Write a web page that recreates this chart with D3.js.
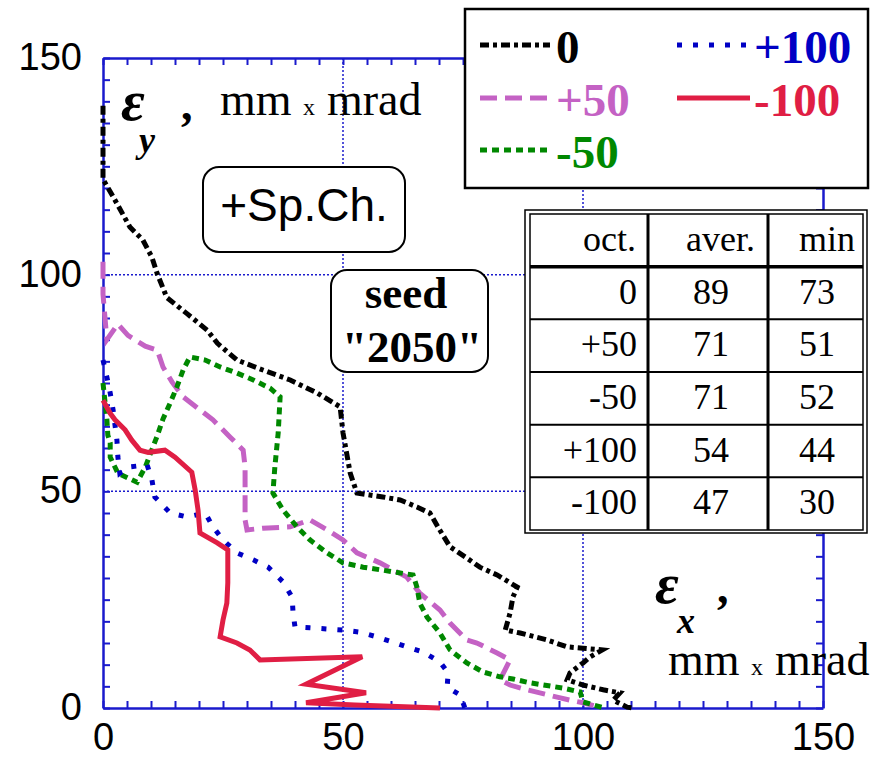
<!DOCTYPE html>
<html>
<head>
<meta charset="utf-8">
<script src="https://cdn.jsdelivr.net/npm/d3@7"></script>
<style>
  body { margin: 0; background: #fff; }
  svg { display: block; }
</style>
</head>
<body>
<svg id="chart" width="885" height="759"></svg>
<script>
// Emittance curves (eps_x, eps_y) for each octupole setting
const seriesNames = ["0", "+50", "-50", "+100", "-100"];

const curveOct0 = [
  [0,139],[0,122],[2.1,118],[5.6,111],[8.3,108],[10.2,104],[11.3,100.2],[13.3,94.7],
  [17.5,91],[21.7,87.2],[23.8,84.2],[27.9,80.3],[33.3,78],[39,75.7],[44.6,72.7],
  [49.4,69.5],[50,63.5],[51.5,54.2],[52.9,49.6],[58.3,48.7],[61.9,48],[65.4,46.4],
  [68.1,45],[70.2,41],[72.3,37.2],[75.8,34.6],[78.5,32.5],[82.1,30.7],[86.3,27.9],
  [85.4,25.6],[84.8,21.9],[83.8,18],[86.9,17.3],[92.5,15.7],[96.7,14.1],[100,13.8],
  [104,13.4],[101.5,11.8],[100,10.4],[97.3,8.1],[96.7,6.5],[100,5.3],[104.2,4.2],
  [107.7,3.5],[106.3,1.8],[109.2,0.2],[110.4,0]
];
const curveOctP50 = [
  [0,103],[0,95.5],[0.8,85],[3.1,88.6],[5.2,86],[8.8,83.5],[11.3,82.6],[12.5,78.7],
  [14.4,75.2],[16.7,71.8],[20.2,68.8],[22.9,66.5],[26.5,62.5],[29.2,59.5],[29.6,55.6],
  [29.6,43.4],[30,41.1],[33.3,41.5],[39,41.8],[43.1,43.4],[46.7,41.1],[50,38.8],
  [52.9,35.8],[57.7,33.5],[63.3,30.2],[66,26.5],[70.2,22.6],[72.3,19.6],[75.8,15.7],
  [77.9,15],[82.1,12.7],[84.8,11.1],[82.7,6.5],[84.8,5.3],[88.3,4.2],[91,3.5],
  [94.6,2.5],[97.3,1.8],[100,1.2],[103.5,0.2]
];
const curveOctM50 = [
  [0,75],[0.8,66.7],[1,63],[1.5,61.2],[1.5,57.9],[3.1,54.2],[7.1,52.1],[8.8,55.6],
  [11.3,62.8],[12.5,66.7],[14,70.4],[15.4,74.1],[16.7,78],[18.1,81],[21.3,80.3],
  [24.4,78.7],[27.9,77.3],[31.3,75.7],[34.8,73.8],[36.9,71.8],[36.5,63.5],[35.8,55.6],
  [35.4,49.6],[37.5,45.7],[40.4,41.8],[43.1,38.8],[46.7,35.8],[50,33.5],[54.2,32.5],
  [58.3,31.8],[64.6,30.7],[65.4,27.9],[66,24.2],[67.5,21],[70.2,17.3],[72.3,13.4],
  [75.8,10.4],[79.2,8.3],[82.7,7.2],[85.4,6.7],[89,5.8],[95.8,4.6],[99.4,3.7],
  [100,1.4],[104.4,0]
];
const curveOctP100 = [
  [0,80.3],[0.8,76.4],[1.5,72.7],[2.1,68.8],[2.9,61.8],[3.1,57.9],[3.5,54.2],[5.2,55.6],
  [9.2,56.1],[10.2,52.6],[10.8,48.7],[14,45],[17.5,44.1],[21.3,45],[22.9,41.8],[25,38.8],
  [27.9,35.8],[31.3,34.2],[34.4,32.5],[37.5,29.1],[39.4,25.6],[39.6,21.9],[40,18.7],
  [43.1,18.5],[50,18],[53.5,17.5],[57.1,16.4],[60.4,15.2],[63.3,14.1],[66.7,12.9],
  [70.2,10.6],[71.9,8.1],[71.7,4.8],[74.4,3],[75.4,0]
];
const curveOctM100 = [
  [0,71],[1.5,68],[2.5,66.5],[4.6,64.2],[6,61.8],[7.7,59.5],[9.4,59],[12.9,59.5],
  [15,57.9],[18.5,54.4],[19.2,50.3],[19.8,45.7],[20.2,40.4],[23.8,38.1],[26,36.5],
  [26,28.9],[25.8,24.2],[25,20.3],[24.4,16.4],[27.9,15],[30.6,13.4],[32.7,11.1],
  [54,11.8],[42.3,5.5],[54.8,3.5],[42.3,1.2],[52.5,0.7],[70.2,0]
];
const seriesCurves = [curveOct0, curveOctP50, curveOctM50, curveOctP100, curveOctM100];

// Summary table
const tableHeader = ["oct.", "aver.", "min"];
const averValues = [89, 71, 71, 54, 47];
const minValues = [73, 51, 52, 44, 30];

// Axes
const axisDomain = [0, 150];
const axisLabelTicks = [0, 50, 100, 150];
const gridValues = [50, 100];
const minorStep = 5;

// ---------- drawing ----------
const svg = d3.select("#chart");
const plot = { left: 103, right: 823, top: 58, bottom: 708 };
const x = d3.scaleLinear().domain(axisDomain).range([plot.left, plot.right]);
const y = d3.scaleLinear().domain(axisDomain).range([plot.bottom, plot.top]);

const AXIS_BLUE = "#1a1acc";
const SANS = "'Liberation Sans', Arial, sans-serif";
const SERIF = "'Liberation Serif', 'Times New Roman', serif";

const lineStyle = {
  "0":    { color: "#000000", width: 5, dash: "9,4,4,4" },
  "+50":  { color: "#c462c4", width: 5, dash: "17,8" },
  "-50":  { color: "#008800", width: 5, dash: "7,5" },
  "+100": { color: "#0000c4", width: 5, dash: "5,11" },
  "-100": { color: "#e01e44", width: 5, dash: null }
};

// dotted grid
const grid = svg.append("g");
grid.selectAll("line.gx").data(gridValues).join("line")
  .attr("x1", d => x(d)).attr("x2", d => x(d))
  .attr("y1", y(150)).attr("y2", y(0))
  .attr("stroke", AXIS_BLUE).attr("stroke-width", 1.5).attr("stroke-dasharray", "2,2");
grid.selectAll("line.gy").data(gridValues).join("line")
  .attr("y1", d => y(d)).attr("y2", d => y(d))
  .attr("x1", x(0)).attr("x2", x(150))
  .attr("stroke", AXIS_BLUE).attr("stroke-width", 1.5).attr("stroke-dasharray", "2,2");

// axes with inward minor ticks on all four sides
const tickVals = d3.range(axisDomain[0], axisDomain[1] + 0.001, minorStep);
const fmt = d => (axisLabelTicks.includes(d) ? String(d) : "");

function styleAxis(g) {
  g.select(".domain").attr("stroke", AXIS_BLUE).attr("stroke-width", 2.5);
  g.selectAll(".tick line").attr("stroke", AXIS_BLUE).attr("stroke-width", 2);
  g.selectAll(".tick text").attr("fill", "#000").attr("font-family", SANS).attr("font-size", 38);
}

svg.append("g").attr("transform", `translate(0,${plot.bottom})`)
  .call(d3.axisBottom(x).tickValues(tickVals).tickSizeInner(-7).tickSizeOuter(0)
        .tickPadding(15).tickFormat(fmt))
  .call(styleAxis);
svg.append("g").attr("transform", `translate(${plot.left},0)`)
  .call(d3.axisLeft(y).tickValues(tickVals).tickSizeInner(-7).tickSizeOuter(0)
        .tickPadding(21).tickFormat(fmt))
  .call(styleAxis)
  .selectAll(".tick text").attr("dy", "0.3em");
svg.append("g").attr("transform", `translate(0,${plot.top})`)
  .call(d3.axisTop(x).tickValues(tickVals).tickSizeInner(-7).tickSizeOuter(0).tickFormat(""))
  .call(styleAxis);
svg.append("g").attr("transform", `translate(${plot.right},0)`)
  .call(d3.axisRight(y).tickValues(tickVals).tickSizeInner(-7).tickSizeOuter(0).tickFormat(""))
  .call(styleAxis);

// curves
const line = d3.line().x(d => x(d[0])).y(d => y(d[1]));
svg.append("g").selectAll("path").data(seriesNames).join("path")
  .attr("d", (name, i) => line(seriesCurves[i]))
  .attr("fill", "none")
  .attr("stroke", n => lineStyle[n].color)
  .attr("stroke-width", n => lineStyle[n].width)
  .attr("stroke-dasharray", n => lineStyle[n].dash)
  .attr("stroke-linejoin", "miter")
  .attr("stroke-linecap", "butt");

// axis titles
function axisTitle(g, ex, ey, sub, subDx, subDy, commaDx, unitX, unitY) {
  g.append("text").attr("x", ex).attr("y", ey)
    .attr("font-family", SERIF).attr("font-style", "italic").attr("font-weight", "bold")
    .attr("font-size", 58).text("\u03b5");
  g.append("text").attr("x", ex + subDx).attr("y", ey + subDy)
    .attr("font-family", SERIF).attr("font-style", "italic").attr("font-weight", "bold")
    .attr("font-size", 36).text(sub);
  g.append("text").attr("x", ex + commaDx).attr("y", ey)
    .attr("font-family", SERIF).attr("font-weight", "bold")
    .attr("font-size", 46).text(",");
  g.append("text").attr("x", unitX).attr("y", unitY)
    .attr("font-family", SERIF).attr("font-size", 46).text("mm");
  g.append("text").attr("x", unitX + 83).attr("y", unitY)
    .attr("font-family", SERIF).attr("font-size", 24).text("x");
  g.append("text").attr("x", unitX + 107).attr("y", unitY)
    .attr("font-family", SERIF).attr("font-size", 46).text("mrad");
}
const titles = svg.append("g");
axisTitle(titles, 121, 120, "y", 18, 32, 60, 220, 115);
axisTitle(titles, 655, 603, "x", 22, 30, 62, 668, 675);

// rounded annotation boxes
const notes = svg.append("g");
notes.append("rect").attr("x", 203).attr("y", 167).attr("width", 202).attr("height", 85)
  .attr("rx", 16).attr("fill", "#fff").attr("stroke", "#000").attr("stroke-width", 2);
notes.append("text").attr("x", 304).attr("y", 221).attr("text-anchor", "middle")
  .attr("font-family", SANS).attr("font-size", 46).text("+Sp.Ch.");
notes.append("rect").attr("x", 331).attr("y", 270).attr("width", 157).attr("height", 102)
  .attr("rx", 16).attr("fill", "#fff").attr("stroke", "#000").attr("stroke-width", 2);
notes.append("text").attr("x", 406).attr("y", 308).attr("text-anchor", "middle")
  .attr("font-family", SERIF).attr("font-weight", "bold").attr("font-size", 45).text("seed");
notes.append("text").attr("x", 412).attr("y", 362).attr("text-anchor", "middle")
  .attr("font-family", SERIF).attr("font-weight", "bold").attr("font-size", 45).text("\"2050\"");

// legend
const legend = svg.append("g");
legend.append("rect").attr("x", 465).attr("y", 9).attr("width", 403).attr("height", 179)
  .attr("fill", "#fff").attr("stroke", "#000").attr("stroke-width", 2.5);
const legendSlot = { "0": [0, 0], "+100": [1, 0], "+50": [0, 1], "-100": [1, 1], "-50": [0, 2] };
const legendCols = [{ x1: 480, x2: 550, tx: 556 }, { x1: 677, x2: 750, tx: 754 }];
const legendRowY = [45, 98, 150];
const items = legend.selectAll("g.item").data(seriesNames).join("g");
items.append("line")
  .attr("x1", n => legendCols[legendSlot[n][0]].x1)
  .attr("x2", n => legendCols[legendSlot[n][0]].x2)
  .attr("y1", n => legendRowY[legendSlot[n][1]])
  .attr("y2", n => legendRowY[legendSlot[n][1]])
  .attr("stroke", n => lineStyle[n].color)
  .attr("stroke-width", n => lineStyle[n].width)
  .attr("stroke-dasharray", n => lineStyle[n].dash);
items.append("text")
  .attr("x", n => legendCols[legendSlot[n][0]].tx)
  .attr("y", n => legendRowY[legendSlot[n][1]] + 18)
  .attr("fill", n => lineStyle[n].color)
  .attr("font-family", SERIF).attr("font-weight", "bold").attr("font-size", 47)
  .text(n => n);

// summary table
const table = svg.append("g");
const tb = { left: 530, right: 863, top: 214, bottom: 530 };
const colEdges = [tb.left, 648, 768, tb.right];
const rowBand = d3.scaleBand().domain(d3.range(seriesNames.length + 1)).range([tb.top, tb.bottom]);
table.append("rect").attr("x", 525).attr("y", 210).attr("width", 342).attr("height", 323)
  .attr("fill", "#fff").attr("stroke", "#000").attr("stroke-width", 1.5);
table.append("rect").attr("x", tb.left).attr("y", tb.top)
  .attr("width", tb.right - tb.left).attr("height", tb.bottom - tb.top)
  .attr("fill", "none").attr("stroke", "#000").attr("stroke-width", 1.5);
table.selectAll("line.col").data(colEdges.slice(1, 3)).join("line")
  .attr("x1", d => d).attr("x2", d => d).attr("y1", tb.top).attr("y2", tb.bottom)
  .attr("stroke", "#000").attr("stroke-width", 3);
table.selectAll("line.row").data(d3.range(1, seriesNames.length + 1)).join("line")
  .attr("x1", tb.left).attr("x2", tb.right)
  .attr("y1", i => rowBand(i)).attr("y2", i => rowBand(i))
  .attr("stroke", "#000").attr("stroke-width", i => (i === 1 ? 3.5 : 2));

const cellFont = sel => sel.attr("font-family", SERIF).attr("font-size", 36).attr("fill", "#000");
const headerX = [636, 755, 855];
table.selectAll("text.h").data(tableHeader).join("text")
  .attr("x", (d, i) => headerX[i]).attr("y", rowBand(0) + 37).attr("text-anchor", "end")
  .call(cellFont).text(d => d);
const rows = table.selectAll("g.r").data(seriesNames).join("g");
rows.append("text").attr("x", 637).attr("y", (d, i) => rowBand(i + 1) + 37)
  .attr("text-anchor", "end").call(cellFont).text(d => d);
rows.append("text").attr("x", 711).attr("y", (d, i) => rowBand(i + 1) + 37)
  .attr("text-anchor", "middle").call(cellFont).text((d, i) => averValues[i]);
rows.append("text").attr("x", 817).attr("y", (d, i) => rowBand(i + 1) + 37)
  .attr("text-anchor", "middle").call(cellFont).text((d, i) => minValues[i]);
</script>
</body>
</html>
